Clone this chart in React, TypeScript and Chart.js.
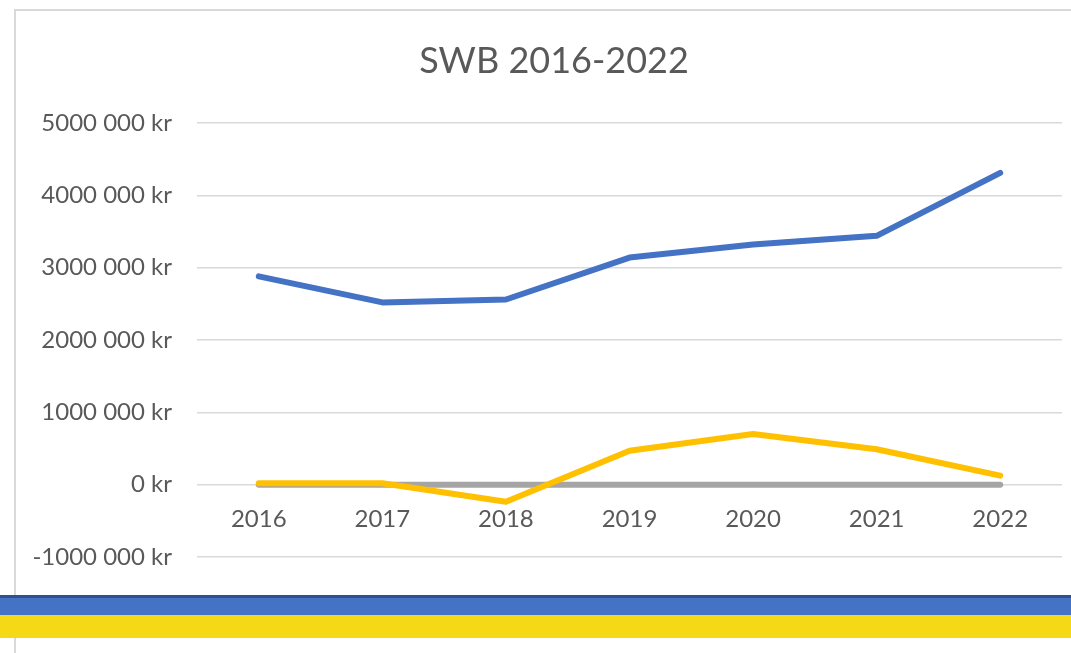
import React, { useEffect, useRef } from "react";
import { Chart, registerables } from "chart.js";

Chart.register(...registerables);

const titleText = "SWB 2016-2022";
const categories = ["2016", "2017", "2018", "2019", "2020", "2021", "2022"];
const seriesBlue = [2880000, 2520000, 2560000, 3140000, 3320000, 3440000, 4310000];
const seriesYellow = [20000, 20000, -235000, 470000, 700000, 490000, 125000];
const seriesGray = [0, 0, 0, 0, 0, 0, 0];
const yTickValues = [-1000000, 0, 1000000, 2000000, 3000000, 4000000, 5000000];
const yTickLabels = ["-1000 000 kr", "0 kr", "1000 000 kr", "2000 000 kr", "3000 000 kr", "4000 000 kr", "5000 000 kr"];

const FONT = "Lato, 'Open Sans', sans-serif";
const TEXT = "#595959";

export default function App() {
  const ref = useRef<HTMLCanvasElement>(null);

  useEffect(() => {
    document.body.style.margin = "0";
    const canvas = ref.current;
    if (!canvas) return;
    const chart = new Chart(canvas, {
      type: "line",
      data: {
        labels: categories,
        datasets: [
          { label: "Blue", data: seriesBlue, borderColor: "#4472C4", backgroundColor: "#4472C4" },
          { label: "Yellow", data: seriesYellow, borderColor: "#FFC000", backgroundColor: "#FFC000" },
          { label: "Gray", data: seriesGray, borderColor: "#A5A5A5", backgroundColor: "#A5A5A5" },
        ],
      },
      options: {
        animation: false,
        responsive: false,
        maintainAspectRatio: false,
        devicePixelRatio: 1,
        elements: {
          line: { borderWidth: 6, tension: 0, borderCapStyle: "round", borderJoinStyle: "round" },
          point: { radius: 0, hoverRadius: 0 },
        },
        layout: { padding: { left: 46, right: 9, top: 10, bottom: 96 } },
        plugins: {
          legend: { display: false },
          tooltip: { enabled: false },
          title: {
            display: true,
            text: titleText,
            color: TEXT,
            font: { family: FONT, size: 36, weight: "normal", lineHeight: 1.2 },
            padding: { top: 30, bottom: 39.8 },
          },
        },
        scales: {
          x: {
            type: "category",
            position: { y: 0 },
            offset: true,
            grid: { display: false, drawTicks: false },
            border: { display: false },
            ticks: {
              color: TEXT,
              font: { family: FONT, size: 24 },
              padding: 20,
              maxRotation: 0,
              autoSkip: false,
            },
          },
          y: {
            type: "linear",
            min: -1000000,
            max: 5000000,
            afterFit: (scale: any) => {
              scale.width = 151;
            },
            afterUpdate: (scale: any) => {
              scale._computeLabelArea = () => undefined;
            },
            afterBuildTicks: (scale: any) => {
              scale.ticks = yTickValues.map((v) => ({ value: v }));
            },
            grid: { color: "#D9D9D9", lineWidth: 1.5, drawTicks: false },
            border: { display: false },
            ticks: {
              color: TEXT,
              font: { family: FONT, size: 24 },
              padding: 25,
              callback: (value: any) => {
                const i = yTickValues.indexOf(Number(value));
                return i >= 0 ? yTickLabels[i] : "";
              },
            },
          },
        },
      },
    });
    return () => chart.destroy();
  }, []);

  return (
    <div style={{ position: "relative", width: 1071, height: 653, overflow: "hidden", background: "#fff" }}>
      <div
        style={{
          position: "absolute",
          left: 14,
          top: 9,
          width: 1071,
          height: 660,
          borderTop: "2px solid #D9D9D9",
          borderLeft: "2px solid #D9D9D9",
          boxSizing: "border-box",
        }}
      />
      <canvas ref={ref} width={1071} height={653} style={{ position: "absolute", left: 0, top: 0, width: 1071, height: 653 }} />
      <div style={{ position: "absolute", left: 0, top: 595, width: 1071, height: 2.5, background: "#2F528F" }} />
      <div style={{ position: "absolute", left: 0, top: 597.5, width: 1071, height: 17.5, background: "#4472C4" }} />
      <div style={{ position: "absolute", left: 0, top: 615, width: 1071, height: 23, background: "#F5D816" }} />
    </div>
  );
}
